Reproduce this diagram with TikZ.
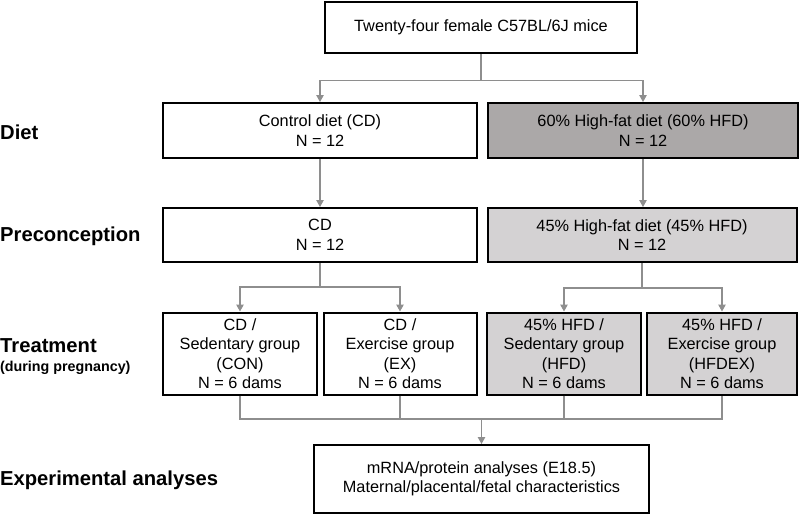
\documentclass[tikz,border=0pt]{standalone}
\usepackage{fontspec}
\setmainfont{Liberation Sans}
\usepackage{tikz}
\usetikzlibrary{arrows.meta,positioning,calc}
\definecolor{linkgray}{HTML}{8E8E8E}
\definecolor{darkfat}{HTML}{ABA8A8}
\definecolor{lightfat}{HTML}{D4D2D3}

\begin{document}
\begin{tikzpicture}[x=1pt,y=-1pt,
    box/.style={draw=black,line width=2pt,fill=white,align=center,inner sep=2pt,
      font=\fontsize{16.3}{19.5}\selectfont},
    rowlabel/.style={anchor=west,inner sep=0pt,font=\fontsize{20.2}{22}\selectfont\bfseries},
    link/.style={draw=linkgray,line width=1.1pt},
    arr/.style={link,-{Triangle[width=7.5pt,length=7pt]}}]
  \useasboundingbox (0,0) rectangle (800,515);

  % boxes
  \node[box,minimum width=312,minimum height=51] (mice) at (481,27.5) {Twenty-four female C57BL/6J mice};
  \node[box,minimum width=314,minimum height=55] (cd) at (320,130.5) {Control diet (CD)\\N = 12};
  \node[box,fill=darkfat,minimum width=310,minimum height=55] (hfdsix) at (643,130.5) {60\% High-fat diet (60\% HFD)\\N = 12};
  \node[box,minimum width=314,minimum height=54] (cdpre) at (320,235) {CD\\N = 12};
  \node[box,fill=lightfat,minimum width=309,minimum height=54] (hfdfour) at (642,235) {45\% High-fat diet (45\% HFD)\\N = 12};
  \node[box,minimum width=154,minimum height=82] (con) at (240,353.5) {CD /\\Sedentary group\\(CON)\\N = 6 dams};
  \node[box,minimum width=153,minimum height=82] (ex) at (400,353.5) {CD /\\Exercise group\\(EX)\\N = 6 dams};
  \node[box,fill=lightfat,minimum width=154,minimum height=82] (hfd) at (564,353.5) {45\% HFD /\\Sedentary group\\(HFD)\\N = 6 dams};
  \node[box,fill=lightfat,minimum width=150,minimum height=82] (hfdex) at (722,353.5) {45\% HFD /\\Exercise group\\(HFDEX)\\N = 6 dams};
  \node[box,minimum width=335,minimum height=68] (analyses) at (481.5,479) {mRNA/protein analyses (E18.5)\\Maternal/placental/fetal characteristics};

  % row labels
  \node[rowlabel] (diet) at (0,132) {Diet};
  \node[rowlabel] (precon) at (0,236) {Preconception};
  \node[rowlabel] (treat) at (0,346) {Treatment};
  \node[rowlabel,font=\fontsize{14.3}{16}\selectfont\bfseries] (during) at (0,368) {(during pregnancy)};
  \node[rowlabel] (exper) at (0,480) {Experimental analyses};

  % connectors
  \draw[arr] (mice.south) -- ++(0,26.5) -| (cd.north);
  \draw[arr] (mice.south) -- ++(0,26.5) -| (hfdsix.north);
  \draw[arr] (cd.south) -- (cdpre.north);
  \draw[arr] (hfdsix.south) -- (hfdsix.south |- hfdfour.north);
  \draw[arr] (cdpre.south) -- ++(0,24) -| (con.north);
  \draw[arr] (cdpre.south) -- ++(0,24) -| (ex.north);
  \draw[arr] (hfdfour.south) -- ++(0,25) -| (hfd.north);
  \draw[arr] (hfdfour.south) -- ++(0,25) -| (hfdex.north);
  \coordinate (join) at (analyses.north |- 0,419);
  \draw[link] (con.south) |- (hfdex.south |- join) -- (hfdex.south);
  \draw[link] (ex.south) -- (ex.south |- join);
  \draw[link] (hfd.south) -- (hfd.south |- join);
  \draw[arr] (join) -- (analyses.north);
\end{tikzpicture}
\end{document}
